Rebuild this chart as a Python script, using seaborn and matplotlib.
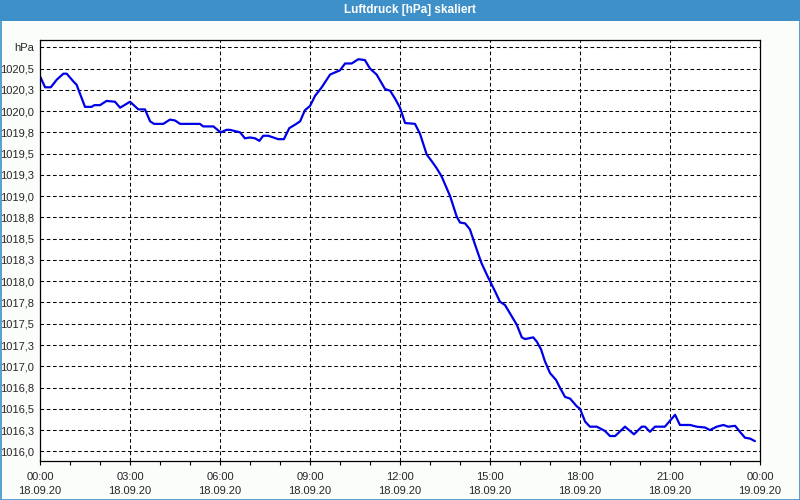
import matplotlib
matplotlib.use("Agg")
import matplotlib.pyplot as plt
from matplotlib.patches import Rectangle
import seaborn as sns
import pandas as pd

# ---- data ----
hours = [0.0, 0.17, 0.36, 0.56, 0.78, 0.89, 1.11, 1.22, 1.5, 1.72, 1.81, 2.0, 2.22, 2.5, 2.67,
         3.0, 3.28, 3.5, 3.67, 3.8, 4.11, 4.33, 4.5, 4.67, 5.33, 5.44, 5.78, 6.02, 6.22, 6.33,
         6.67, 6.83, 7.0, 7.17, 7.31, 7.44, 7.61, 7.94, 8.13, 8.31, 8.5, 8.67, 8.83, 9.0, 9.17,
         9.39, 9.67, 10.0, 10.17, 10.39, 10.61, 10.83, 11.0, 11.22, 11.5, 11.67, 11.83, 12.0,
         12.17, 12.5, 12.67, 12.89, 13.06, 13.22, 13.39, 13.67, 13.89, 14.0, 14.17, 14.33,
         14.56, 14.72, 14.89, 15.0, 15.17, 15.33, 15.5, 15.72, 15.89, 16.06, 16.17, 16.44,
         16.56, 16.7, 16.83, 17.0, 17.2, 17.33, 17.5, 17.67, 17.89, 18.0, 18.17, 18.33, 18.56,
         18.83, 19.0, 19.17, 19.5, 19.8, 20.06, 20.17, 20.33, 20.5, 20.83, 21.17, 21.33, 21.67,
         21.89, 22.17, 22.33, 22.56, 22.78, 22.94, 23.17, 23.33, 23.5, 23.67, 23.83]
pressure = [1020.41, 1020.28, 1020.28, 1020.37, 1020.44, 1020.44, 1020.35, 1020.31, 1020.05,
            1020.05, 1020.07, 1020.07, 1020.12, 1020.11, 1020.04, 1020.11, 1020.02, 1020.02,
            1019.88, 1019.85, 1019.85, 1019.90, 1019.89, 1019.85, 1019.85, 1019.82, 1019.82,
            1019.75, 1019.78, 1019.78, 1019.75, 1019.68, 1019.69, 1019.68, 1019.65, 1019.71,
            1019.71, 1019.67, 1019.67, 1019.80, 1019.84, 1019.88, 1020.01, 1020.06, 1020.18,
            1020.28, 1020.43, 1020.48, 1020.56, 1020.56, 1020.61, 1020.60, 1020.50, 1020.43,
            1020.26, 1020.24, 1020.15, 1020.04, 1019.86, 1019.85, 1019.73, 1019.49, 1019.41,
            1019.33, 1019.23, 1019.00, 1018.76, 1018.69, 1018.68, 1018.61, 1018.37, 1018.21,
            1018.08, 1018.00, 1017.88, 1017.76, 1017.72, 1017.59, 1017.49, 1017.34, 1017.32,
            1017.34, 1017.29, 1017.20, 1017.06, 1016.92, 1016.84, 1016.75, 1016.64, 1016.62,
            1016.53, 1016.50, 1016.35, 1016.29, 1016.29, 1016.24, 1016.18, 1016.18, 1016.29,
            1016.20, 1016.29, 1016.29, 1016.23, 1016.29, 1016.29, 1016.43, 1016.31, 1016.31,
            1016.29, 1016.28, 1016.25, 1016.29, 1016.31, 1016.29, 1016.30, 1016.23, 1016.16,
            1016.15, 1016.12]

x_ticks = [0, 3, 6, 9, 12, 15, 18, 21, 24]
x_labels = ["00:00\n18.09.20", "03:00\n18.09.20", "06:00\n18.09.20", "09:00\n18.09.20",
            "12:00\n18.09.20", "15:00\n18.09.20", "18:00\n18.09.20", "21:00\n18.09.20",
            "00:00\n19.09.20"]
y_ticks = [1016.0, 1016.25, 1016.5, 1016.75, 1017.0, 1017.25, 1017.5, 1017.75, 1018.0,
           1018.25, 1018.5, 1018.75, 1019.0, 1019.25, 1019.5, 1019.75, 1020.0, 1020.25,
           1020.5, 1020.75]
y_labels = ["1016,0", "1016,3", "1016,5", "1016,8", "1017,0", "1017,3", "1017,5", "1017,8",
            "1018,0", "1018,3", "1018,5", "1018,8", "1019,0", "1019,3", "1019,5", "1019,8",
            "1020,0", "1020,3", "1020,5", "hPa"]
title = "Luftdruck [hPa] skaliert"

df = pd.DataFrame({"hour": hours, "hPa": pressure})

sns.set_style("white")
plt.rcParams["font.family"] = ["Liberation Sans", "DejaVu Sans"]

fig = plt.figure(figsize=(8, 5), dpi=100)
fig.patch.set_facecolor("#fbfdfb")

# title bar
fig.patches.append(Rectangle((0, 1 - 20.5 / 500), 1, 20.5 / 500, transform=fig.transFigure,
                             facecolor="#3d90c8", edgecolor="none", zorder=0))
fig.text(410 / 800, 1 - 10.5 / 500, title, color="white", fontsize=8.5, fontweight="bold",
         ha="center", va="center")
# thin blue frame
fig.patches.append(Rectangle((0.5 / 800, 0.5 / 500), 799 / 800, 499 / 500, transform=fig.transFigure,
                             facecolor="none", edgecolor="#3d90c8", linewidth=1.2, zorder=0))

ax = fig.add_axes([40 / 800, 39.3 / 500, 720 / 800, 420.7 / 500])
ax.set_facecolor("white")

sns.lineplot(data=df, x="hour", y="hPa", ax=ax, color="#0000e6", linewidth=1.6)

ax.set_xlim(0, 24)
ax.set_ylim(1015.89, 1020.836)

ax.set_xticks(x_ticks)
ax.set_xticklabels(x_labels, fontsize=8, linespacing=1.55)
ax.set_xticks(list(range(0, 25)), minor=True)
ax.set_yticks(y_ticks)
ax.set_yticklabels(y_labels, fontsize=8)

ax.tick_params(axis="x", which="both", direction="out", length=3, width=0.8, color="black",
               pad=5, bottom=True)
ax.tick_params(axis="y", which="both", length=0, pad=4, left=True)

ax.grid(True, which="major", color="black", linestyle=(0, (3.5, 2.5)), linewidth=0.75)
ax.set_axisbelow(True)
# hide the dashed gridline that would sit on the right spine
ax.get_xgridlines()[-1].set_visible(False)

for s in ax.spines.values():
    s.set_visible(True)
    s.set_color("black")
    s.set_linewidth(0.9)
    s.set_zorder(3)

ax.set_xlabel("")
ax.set_ylabel("")

fig.savefig("out.png", dpi=100, facecolor=fig.get_facecolor())
